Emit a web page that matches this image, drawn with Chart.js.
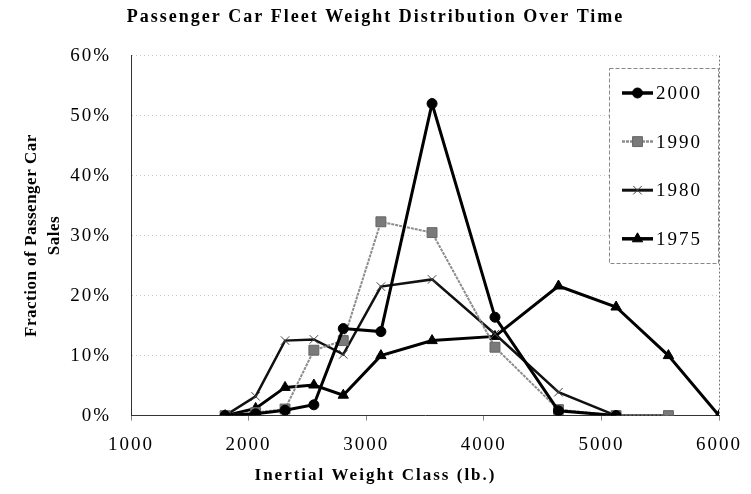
<!DOCTYPE html>
<html>
<head>
<meta charset="utf-8">
<script src="https://cdn.jsdelivr.net/npm/chart.js@4.4.1/dist/chart.umd.min.js"></script>
<style>
  html, body { margin: 0; padding: 0; background: #fff; }
  #wrap { width: 751px; height: 494px; }
</style>
</head>
<body>
<div id="wrap"><canvas id="chart"></canvas></div>
<script>
// Inertial weight classes (lb.) used as x positions
const weights = [1800, 2060, 2310, 2555, 2805, 3125, 3560, 4095, 4635, 5125, 5570, 6000];

// Fraction of passenger car sales (%) per class, null = no point
const share2000 = [0, 0.3, 0.9, 1.8, 14.5, 14.0, 52.0, 16.4, 0.8, 0, null, null];
const share1990 = [0, 0.5, 1.1, 10.9, 12.5, 32.3, 30.5, 11.4, 1.0, 0, 0, null];
const share1980 = [0, 3.2, 12.5, 12.7, 10.2, 21.5, 22.7, 13.6, 3.9, 0, 0, null];
const share1975 = [0, 1.2, 4.7, 5.1, 3.4, 10.0, 12.5, 13.2, 21.6, 18.1, 10.0, 0];

const yTicks = [0, 10, 20, 30, 40, 50, 60];
const serif = "'Liberation Serif', 'Times New Roman', serif";

function toPoints(values) {
    const pts = [];
    values.forEach((v, i) => {
        if (v !== null) pts.push({ x: weights[i], y: v });
    });
    return pts;
}

// legend drawn as a boxed list inside the plot, like the original
const boxLegend = {
    id: 'boxLegend',
    afterDraw(chart) {
        const ctx = chart.ctx;
        const area = chart.chartArea;
        ctx.save();
        // right frame of the plot (dotted)
        ctx.strokeStyle = '#777';
        ctx.lineWidth = 1;
        ctx.setLineDash([2, 2]);
        ctx.beginPath();
        ctx.moveTo(area.right + 0.5, area.top);
        ctx.lineTo(area.right + 0.5, area.bottom);
        ctx.stroke();

        // legend box
        const box = { left: 609, top: 68, width: 109, height: 195 };
        ctx.fillStyle = '#fff';
        ctx.fillRect(box.left, box.top, box.width, box.height);
        ctx.setLineDash([4, 2]);
        ctx.strokeStyle = '#888';
        ctx.strokeRect(box.left + 0.5, box.top + 0.5, box.width, box.height);
        ctx.setLineDash([]);

        ctx.letterSpacing = '2px';
        ctx.font = '19px ' + serif;
        ctx.textBaseline = 'middle';
        ctx.textAlign = 'left';
        chart.data.datasets.forEach((ds, i) => {
            const y = 93 + i * 48.6;
            const x0 = 622, x1 = 653;
            ctx.strokeStyle = ds.borderColor;
            ctx.lineWidth = ds.borderWidth + 0.5;
            ctx.setLineDash(ds.borderDash || []);
            ctx.beginPath();
            ctx.moveTo(x0, y);
            ctx.lineTo(x1, y);
            ctx.stroke();
            ctx.setLineDash([]);
            ctx.fillStyle = ds.pointBackgroundColor;
            ctx.strokeStyle = ds.pointBorderColor;
            ctx.lineWidth = ds.pointBorderWidth;
            Chart.helpers.drawPoint(ctx, {
                pointStyle: ds.pointStyle,
                radius: ds.pointRadius,
                rotation: 0,
                borderWidth: ds.pointBorderWidth
            }, (x0 + x1) / 2, y);
            ctx.fillStyle = '#000';
            ctx.fillText(ds.label, 656, y + 1);
        });
        ctx.restore();
    }
};

// wider letter spacing for the scanned-looking text
const spacing = {
    id: 'spacing',
    afterLayout(chart) {
        const ys = chart.scales.y;
        if (ys && !ys._tightTitle) {
            const orig = ys.drawTitle.bind(ys);
            ys.drawTitle = function () {
                const c = this.ctx;
                const old = c.letterSpacing;
                c.letterSpacing = '0.5px';
                orig();
                c.letterSpacing = old;
            };
            ys._tightTitle = true;
        }
    },
    beforeDraw(chart) { chart.ctx.letterSpacing = '2px'; },
    afterDraw(chart) { chart.ctx.letterSpacing = '0px'; }
};

new Chart(document.getElementById('chart'), {
    type: 'line',
    data: {
        datasets: [
            {
                label: '2000',
                data: toPoints(share2000),
                borderColor: '#000',
                borderWidth: 3,
                pointStyle: 'circle',
                pointRadius: 5,
                pointBackgroundColor: '#000',
                pointBorderColor: '#000',
                pointBorderWidth: 1
            },
            {
                label: '1990',
                data: toPoints(share1990),
                borderColor: '#8c8c8c',
                borderWidth: 2,
                borderDash: [3, 1],
                pointStyle: 'rect',
                pointRadius: 7,
                pointBackgroundColor: '#7a7a7a',
                pointBorderColor: '#666',
                pointBorderWidth: 1
            },
            {
                label: '1980',
                data: toPoints(share1980),
                borderColor: '#111',
                borderWidth: 2.5,
                pointStyle: 'crossRot',
                pointRadius: 6,
                pointBackgroundColor: '#444',
                pointBorderColor: '#444',
                pointBorderWidth: 1
            },
            {
                label: '1975',
                data: toPoints(share1975),
                borderColor: '#000',
                borderWidth: 3,
                pointStyle: 'triangle',
                pointRadius: 6,
                pointBackgroundColor: '#000',
                pointBorderColor: '#000',
                pointBorderWidth: 1
            }
        ]
    },
    options: {
        responsive: true,
        maintainAspectRatio: false,
        animation: false,
        layout: { padding: { left: 0, right: 0, top: 0, bottom: 0 } },
        plugins: {
            legend: { display: false },
            tooltip: { enabled: false },
            title: {
                display: true,
                text: 'Passenger Car Fleet Weight Distribution Over Time',
                color: '#000',
                font: { family: serif, size: 18, weight: 'bold' },
                padding: { top: 7, bottom: 27 }
            },
            subtitle: {
                display: true,
                position: 'bottom',
                text: 'Inertial Weight Class (lb.)',
                color: '#000',
                font: { family: serif, size: 17, weight: 'bold' },
                padding: { top: 0, bottom: 8 }
            }
        },
        scales: {
            x: {
                type: 'linear',
                min: 1000,
                max: 6000,
                border: { color: '#333', width: 1 },
                grid: { drawOnChartArea: false, tickLength: 5, color: '#888' },
                ticks: {
                    stepSize: 1000,
                    color: '#000',
                    padding: 13,
                    font: { family: serif, size: 19 },
                    callback: v => String(v)
                },
                afterFit: s => { s.height = 50; }
            },
            y: {
                min: 0,
                max: 60,
                border: { color: '#333', width: 1, dash: [1, 3] },
                grid: {
                    drawTicks: false,
                    color: '#c4c4c4',
                    lineWidth: 1
                },
                ticks: {
                    stepSize: 10,
                    color: '#000',
                    padding: 20,
                    font: { family: serif, size: 19 },
                    callback: v => yTicks.includes(v) ? v + '%' : ''
                },
                title: {
                    display: true,
                    text: ['Fraction of Passenger Car', 'Sales'],
                    color: '#000',
                    font: { family: serif, size: 17, weight: 'bold', lineHeight: 1.35 },
                    padding: { top: 20, bottom: 0 }
                },
                afterFit: s => { s.width = 131; }
            }
        }
    },
    plugins: [spacing, boxLegend]
});
</script>
</body>
</html>
